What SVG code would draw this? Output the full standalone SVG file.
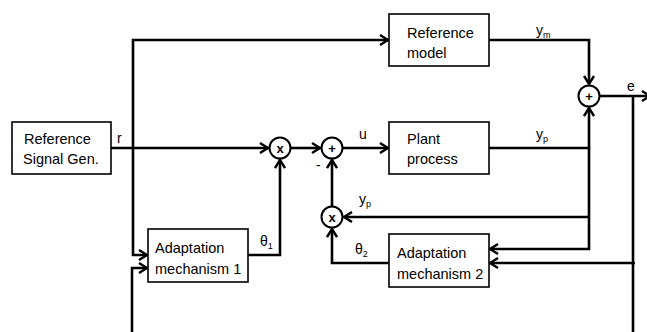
<svg xmlns="http://www.w3.org/2000/svg" width="647" height="332" viewBox="0 0 647 332">
<style>
.box{fill:#fff;stroke:#000;stroke-width:1.6}
.t{font-family:"Liberation Sans",Arial,sans-serif;font-size:14.5px;fill:#000}
.l{font-family:"Liberation Sans",Arial,sans-serif;font-size:14px;fill:#000}
.s{font-size:9px}
.c{fill:#fff;stroke:#000;stroke-width:2}
.op{font-family:"Liberation Sans",Arial,sans-serif;font-size:13px;font-weight:bold;text-anchor:middle;fill:#000}
.w{fill:none;stroke:#000;stroke-width:2.6}
.a{marker-end:url(#ah)}
</style>
<defs>
<marker id="ah" markerUnits="userSpaceOnUse" viewBox="0 0 10 12" markerWidth="10" markerHeight="12" refX="9" refY="6" orient="auto">
<path d="M1,1 L9,6 L1,11" fill="none" stroke="#000" stroke-width="2.4"/>
</marker>
</defs>
<g id="connectors">
<path class="w a" d="M111,148 H268"/>
<path class="w a" d="M133,148 V40 H388"/>
<path class="w a" d="M133,148 V255 H147"/>
<path class="w a" d="M132,334 V268 H147"/>
<path class="w a" d="M291,148 H320"/>
<path class="w a" d="M343,148 H388"/>
<path class="w a" d="M489,40 H589 V84"/>
<path class="w a" d="M489,148 H589 V108"/>
<path class="w a" d="M589,148 V249 H490"/>
<path class="w a" d="M589,217 H344"/>
<path class="w a" d="M600,96 H650"/>
<path class="w" d="M633,96 V334"/>
<path class="w a" d="M635,263 H490"/>
<path class="w a" d="M248,255 H280 V160"/>
<path class="w a" d="M389,263 H332 V229"/>
<path class="w a" d="M332,206 V160"/>
</g>
<g id="labels">
<text class="l" x="117" y="143">r</text>
<text class="l" x="359" y="139">u</text>
<text class="l" x="536" y="35">y<tspan class="s" dy="3">m</tspan></text>
<text class="l" x="536" y="139">y<tspan class="s" dy="3">p</tspan></text>
<text class="l" x="627" y="91">e</text>
<text class="l" x="359" y="204">y<tspan class="s" dy="3">p</tspan></text>
<text class="l" x="260" y="246">θ<tspan class="s" dy="3">1</tspan></text>
<text class="l" x="355" y="254">θ<tspan class="s" dy="3">2</tspan></text>
<text class="l" x="316" y="170">-</text>
</g>
<g id="refgen">
<rect class="box" x="12" y="122" width="99" height="52"/>
<text class="t" x="24" y="144">Reference</text>
<text class="t" x="23" y="164">Signal Gen.</text>
</g>
<g id="refmodel">
<rect class="box" x="389" y="14" width="100" height="52"/>
<text class="t" x="407" y="38">Reference</text>
<text class="t" x="407" y="58">model</text>
</g>
<g id="plant">
<rect class="box" x="389" y="122" width="100" height="52"/>
<text class="t" x="407" y="144">Plant</text>
<text class="t" x="407" y="164">process</text>
</g>
<g id="adapt1">
<rect class="box" x="148" y="229" width="100" height="53"/>
<text class="t" x="155" y="253">Adaptation</text>
<text class="t" x="155" y="274">mechanism 1</text>
</g>
<g id="adapt2">
<rect class="box" x="389" y="234" width="100" height="53"/>
<text class="t" x="397" y="258">Adaptation</text>
<text class="t" x="397" y="279">mechanism 2</text>
</g>
<g id="mult1">
<circle class="c" cx="280" cy="148" r="10.5"/>
<text class="op" x="280" y="152.5">x</text>
</g>
<g id="sum1">
<circle class="c" cx="332" cy="148" r="10.5"/>
<text class="op" x="332" y="153">+</text>
</g>
<g id="mult2">
<circle class="c" cx="332" cy="217" r="10.5"/>
<text class="op" x="332" y="221.5">x</text>
</g>
<g id="sum2">
<circle class="c" cx="589" cy="96" r="10.5"/>
<text class="op" x="589" y="101">+</text>
</g>
</svg>
